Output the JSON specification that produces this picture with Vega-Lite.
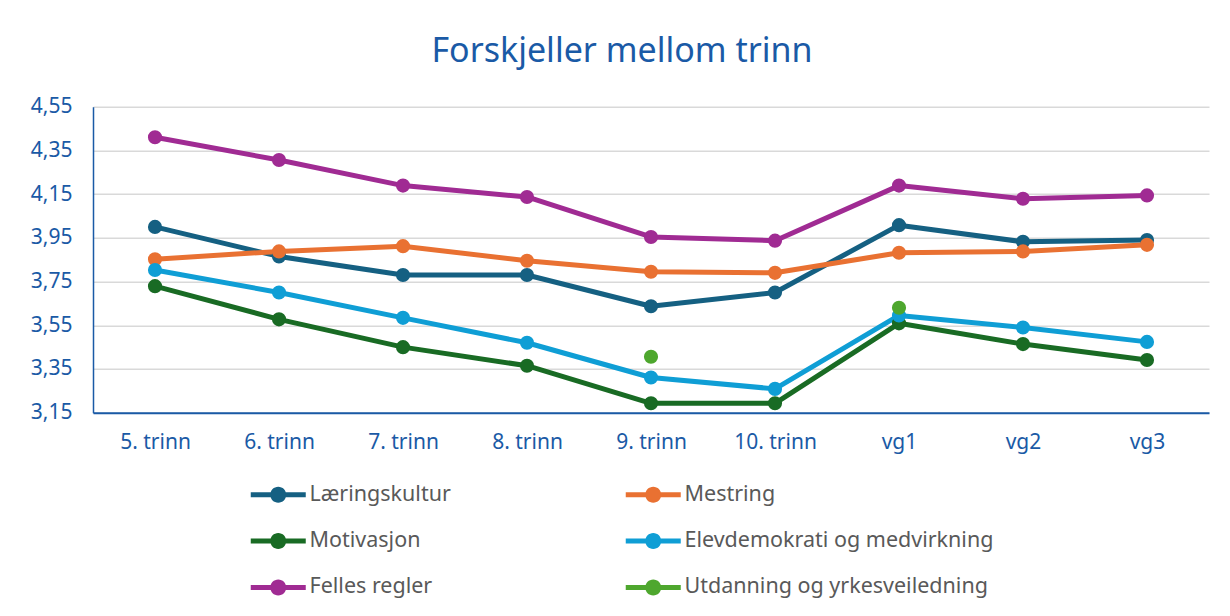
{
  "$schema": "https://vega.github.io/schema/vega-lite/v6.json",
  "autosize": {"type": "none"},
  "padding": {"left": 93, "top": 106.7, "right": 21, "bottom": 203.3},
  "width": 1116,
  "height": 306,
  "background": "white",
  "title": {
    "text": "Forskjeller mellom trinn",
    "font": "Noto Sans",
    "fontSize": 34,
    "fontWeight": "normal",
    "color": "#1a5aa6",
    "anchor": "middle",
    "dx": -29,
    "offset": 27
  },
  "data": {
    "values": [
      {"trinn": "5. trinn", "kategori": "Læringskultur", "verdi": 4.0},
      {"trinn": "6. trinn", "kategori": "Læringskultur", "verdi": 3.865},
      {"trinn": "7. trinn", "kategori": "Læringskultur", "verdi": 3.78},
      {"trinn": "8. trinn", "kategori": "Læringskultur", "verdi": 3.78},
      {"trinn": "9. trinn", "kategori": "Læringskultur", "verdi": 3.637},
      {"trinn": "10. trinn", "kategori": "Læringskultur", "verdi": 3.7},
      {"trinn": "vg1", "kategori": "Læringskultur", "verdi": 4.008},
      {"trinn": "vg2", "kategori": "Læringskultur", "verdi": 3.932},
      {"trinn": "vg3", "kategori": "Læringskultur", "verdi": 3.94},
      {"trinn": "5. trinn", "kategori": "Mestring", "verdi": 3.852},
      {"trinn": "6. trinn", "kategori": "Mestring", "verdi": 3.888},
      {"trinn": "7. trinn", "kategori": "Mestring", "verdi": 3.912},
      {"trinn": "8. trinn", "kategori": "Mestring", "verdi": 3.845},
      {"trinn": "9. trinn", "kategori": "Mestring", "verdi": 3.795},
      {"trinn": "10. trinn", "kategori": "Mestring", "verdi": 3.79},
      {"trinn": "vg1", "kategori": "Mestring", "verdi": 3.882},
      {"trinn": "vg2", "kategori": "Mestring", "verdi": 3.888},
      {"trinn": "vg3", "kategori": "Mestring", "verdi": 3.918},
      {"trinn": "5. trinn", "kategori": "Motivasjon", "verdi": 3.729},
      {"trinn": "6. trinn", "kategori": "Motivasjon", "verdi": 3.577},
      {"trinn": "7. trinn", "kategori": "Motivasjon", "verdi": 3.45},
      {"trinn": "8. trinn", "kategori": "Motivasjon", "verdi": 3.365},
      {"trinn": "9. trinn", "kategori": "Motivasjon", "verdi": 3.193},
      {"trinn": "10. trinn", "kategori": "Motivasjon", "verdi": 3.193},
      {"trinn": "vg1", "kategori": "Motivasjon", "verdi": 3.559},
      {"trinn": "vg2", "kategori": "Motivasjon", "verdi": 3.464},
      {"trinn": "vg3", "kategori": "Motivasjon", "verdi": 3.391},
      {"trinn": "5. trinn", "kategori": "Elevdemokrati og medvirkning", "verdi": 3.803},
      {"trinn": "6. trinn", "kategori": "Elevdemokrati og medvirkning", "verdi": 3.7},
      {"trinn": "7. trinn", "kategori": "Elevdemokrati og medvirkning", "verdi": 3.584},
      {"trinn": "8. trinn", "kategori": "Elevdemokrati og medvirkning", "verdi": 3.47},
      {"trinn": "9. trinn", "kategori": "Elevdemokrati og medvirkning", "verdi": 3.311},
      {"trinn": "10. trinn", "kategori": "Elevdemokrati og medvirkning", "verdi": 3.259},
      {"trinn": "vg1", "kategori": "Elevdemokrati og medvirkning", "verdi": 3.595},
      {"trinn": "vg2", "kategori": "Elevdemokrati og medvirkning", "verdi": 3.54},
      {"trinn": "vg3", "kategori": "Elevdemokrati og medvirkning", "verdi": 3.474},
      {"trinn": "5. trinn", "kategori": "Felles regler", "verdi": 4.41},
      {"trinn": "6. trinn", "kategori": "Felles regler", "verdi": 4.306},
      {"trinn": "7. trinn", "kategori": "Felles regler", "verdi": 4.189},
      {"trinn": "8. trinn", "kategori": "Felles regler", "verdi": 4.137},
      {"trinn": "9. trinn", "kategori": "Felles regler", "verdi": 3.954},
      {"trinn": "10. trinn", "kategori": "Felles regler", "verdi": 3.937},
      {"trinn": "vg1", "kategori": "Felles regler", "verdi": 4.189},
      {"trinn": "vg2", "kategori": "Felles regler", "verdi": 4.129},
      {"trinn": "vg3", "kategori": "Felles regler", "verdi": 4.144},
      {"trinn": "9. trinn", "kategori": "Utdanning og yrkesveiledning", "verdi": 3.406},
      {"trinn": "vg1", "kategori": "Utdanning og yrkesveiledning", "verdi": 3.63}
    ]
  },
  "encoding": {
    "x": {
      "field": "trinn",
      "type": "ordinal",
      "sort": ["5. trinn", "6. trinn", "7. trinn", "8. trinn", "9. trinn", "10. trinn", "vg1", "vg2", "vg3"],
      "scale": {"type": "point", "padding": 0.5},
      "axis": {
        "title": null,
        "labelAngle": 0,
        "ticks": false,
        "grid": false,
        "domainColor": "#1a5aa6",
        "domainWidth": 2,
        "labelFont": "Noto Sans",
        "labelFontSize": 21,
        "labelColor": "#1a5aa6",
        "labelPadding": 19
      }
    },
    "y": {
      "field": "verdi",
      "type": "quantitative",
      "scale": {"domain": [3.15, 4.55], "nice": false, "zero": false},
      "axis": {
        "title": null,
        "values": [3.15, 3.35, 3.55, 3.75, 3.95, 4.15, 4.35, 4.55],
        "labelExpr": "replace(format(datum.value, '.2f'), '.', ',')",
        "ticks": false,
        "grid": true,
        "gridColor": "#d9d9d9",
        "gridWidth": 1.5,
        "domainColor": "#1a5aa6",
        "domainWidth": 1.5,
        "labelFont": "Noto Sans",
        "labelFontSize": 21,
        "labelColor": "#1a5aa6",
        "labelPadding": 21
      }
    },
    "color": {
      "field": "kategori",
      "type": "nominal",
      "scale": {
        "domain": ["Læringskultur", "Mestring", "Motivasjon", "Elevdemokrati og medvirkning", "Felles regler", "Utdanning og yrkesveiledning"],
        "range": ["#156082", "#e97132", "#196b24", "#0f9ed5", "#a02b93", "#4ea72e"]
      },
      "legend": {
        "title": null,
        "orient": "none",
        "legendX": 174.5,
        "legendY": 377,
        "direction": "horizontal",
        "columns": 2,
        "columnPadding": 174,
        "rowPadding": 23.5,
        "symbolType": "M-2.75,-0.25L2.75,-0.25L2.75,0.25L-2.75,0.25Z M0.8,0A0.8,0.8,0,1,1,-0.8,0A0.8,0.8,0,1,1,0.8,0Z",
        "symbolSize": 400,
        "symbolStrokeWidth": 0,
        "labelOffset": 20.5,
        "labelFont": "Noto Sans",
        "labelFontSize": 21.5,
        "labelColor": "#595959",
        "labelLimit": 400,
        "encode": {
          "symbols": {
            "update": {
              "fill": {"scale": "color", "field": "value"},
              "fillOpacity": {"value": 1},
              "strokeWidth": {"value": 0}
            }
          }
        }
      }
    }
  },
  "layer": [
    {
      "transform": [{"filter": "datum.kategori !== 'Utdanning og yrkesveiledning'"}],
      "mark": {"type": "line", "strokeWidth": 5, "strokeCap": "round", "strokeJoin": "round"}
    },
    {
      "mark": {"type": "point", "shape": "circle", "filled": true, "size": 200, "opacity": 1}
    }
  ],
  "config": {
    "view": {"stroke": null}
  }
}
